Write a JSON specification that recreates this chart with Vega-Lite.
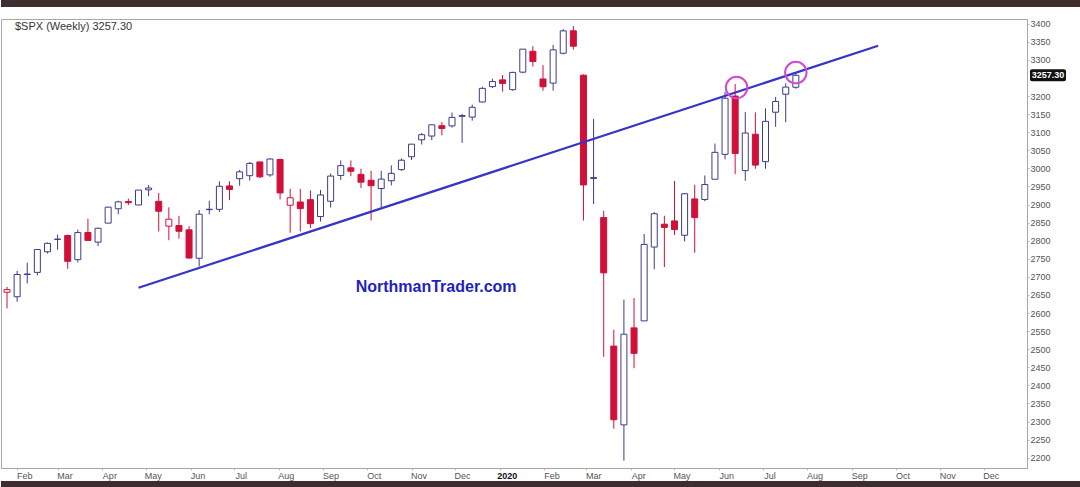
{
  "$schema": "https://vega.github.io/schema/vega-lite/v6.json",
  "background": "white",
  "padding": 0,
  "spacing": 0,
  "config": {
    "font": "Liberation Sans",
    "view": {"stroke": null},
    "axis": {"grid": false, "labelFont": "Liberation Sans", "labelOverlap": false},
    "scale": {"continuousPadding": 0}
  },
  "datasets": {
    "candles": [
      {"d": "2019-01-25", "o": 2657.44, "h": 2672.38, "l": 2612.86, "c": 2664.76, "t": "down"},
      {"d": "2019-02-01", "o": 2644.97, "h": 2716.66, "l": 2631.05, "c": 2706.53, "t": "up"},
      {"d": "2019-02-08", "o": 2706.49, "h": 2738.98, "l": 2681.83, "c": 2707.88, "t": "up"},
      {"d": "2019-02-15", "o": 2712.40, "h": 2775.66, "l": 2704.10, "c": 2775.60, "t": "up"},
      {"d": "2019-02-22", "o": 2769.28, "h": 2795.14, "l": 2764.55, "c": 2792.67, "t": "up"},
      {"d": "2019-03-01", "o": 2804.35, "h": 2816.88, "l": 2775.13, "c": 2803.69, "t": "up"},
      {"d": "2019-03-08", "o": 2814.37, "h": 2816.88, "l": 2722.27, "c": 2743.07, "t": "down"},
      {"d": "2019-03-15", "o": 2747.61, "h": 2830.73, "l": 2739.92, "c": 2822.48, "t": "up"},
      {"d": "2019-03-22", "o": 2822.61, "h": 2860.31, "l": 2800.48, "c": 2800.71, "t": "down"},
      {"d": "2019-03-29", "o": 2796.01, "h": 2836.03, "l": 2785.02, "c": 2834.40, "t": "up"},
      {"d": "2019-04-05", "o": 2848.63, "h": 2893.42, "l": 2848.63, "c": 2892.74, "t": "up"},
      {"d": "2019-04-12", "o": 2888.32, "h": 2910.53, "l": 2873.34, "c": 2907.41, "t": "up"},
      {"d": "2019-04-19", "o": 2908.32, "h": 2916.06, "l": 2898.94, "c": 2905.03, "t": "down"},
      {"d": "2019-04-26", "o": 2898.78, "h": 2939.88, "l": 2898.00, "c": 2939.88, "t": "up"},
      {"d": "2019-05-03", "o": 2940.58, "h": 2954.13, "l": 2923.00, "c": 2945.64, "t": "up"},
      {"d": "2019-05-10", "o": 2908.89, "h": 2932.00, "l": 2825.39, "c": 2881.40, "t": "down"},
      {"d": "2019-05-17", "o": 2840.19, "h": 2892.15, "l": 2801.43, "c": 2859.53, "t": "down"},
      {"d": "2019-05-24", "o": 2841.94, "h": 2868.88, "l": 2805.49, "c": 2826.06, "t": "down"},
      {"d": "2019-05-31", "o": 2830.03, "h": 2840.51, "l": 2750.52, "c": 2752.06, "t": "down"},
      {"d": "2019-06-07", "o": 2751.53, "h": 2884.88, "l": 2728.81, "c": 2873.34, "t": "up"},
      {"d": "2019-06-14", "o": 2885.83, "h": 2910.61, "l": 2873.00, "c": 2886.98, "t": "up"},
      {"d": "2019-06-21", "o": 2886.82, "h": 2964.15, "l": 2879.62, "c": 2950.46, "t": "up"},
      {"d": "2019-06-28", "o": 2951.42, "h": 2964.15, "l": 2912.00, "c": 2941.76, "t": "down"},
      {"d": "2019-07-05", "o": 2971.41, "h": 2995.84, "l": 2952.22, "c": 2990.41, "t": "up"},
      {"d": "2019-07-12", "o": 2979.77, "h": 3017.80, "l": 2966.39, "c": 3013.77, "t": "up"},
      {"d": "2019-07-19", "o": 3017.80, "h": 3017.80, "l": 2973.09, "c": 2976.61, "t": "down"},
      {"d": "2019-07-26", "o": 2981.93, "h": 3027.98, "l": 2976.65, "c": 3025.86, "t": "up"},
      {"d": "2019-08-02", "o": 3024.47, "h": 3027.00, "l": 2914.11, "c": 2932.05, "t": "down"},
      {"d": "2019-08-09", "o": 2898.07, "h": 2943.31, "l": 2822.12, "c": 2918.65, "t": "down"},
      {"d": "2019-08-16", "o": 2907.07, "h": 2943.31, "l": 2825.71, "c": 2888.68, "t": "down"},
      {"d": "2019-08-23", "o": 2913.48, "h": 2939.08, "l": 2834.97, "c": 2847.11, "t": "down"},
      {"d": "2019-08-30", "o": 2866.70, "h": 2940.43, "l": 2853.05, "c": 2926.46, "t": "up"},
      {"d": "2019-09-06", "o": 2909.01, "h": 2985.86, "l": 2891.85, "c": 2978.71, "t": "up"},
      {"d": "2019-09-13", "o": 2980.33, "h": 3021.99, "l": 2968.00, "c": 3007.39, "t": "up"},
      {"d": "2019-09-20", "o": 3001.50, "h": 3021.99, "l": 2978.23, "c": 2992.07, "t": "down"},
      {"d": "2019-09-27", "o": 2983.50, "h": 2999.15, "l": 2945.53, "c": 2961.79, "t": "down"},
      {"d": "2019-10-04", "o": 2967.07, "h": 2993.28, "l": 2855.96, "c": 2952.01, "t": "down"},
      {"d": "2019-10-11", "o": 2944.23, "h": 2993.28, "l": 2892.66, "c": 2970.27, "t": "up"},
      {"d": "2019-10-18", "o": 2965.81, "h": 3008.29, "l": 2952.86, "c": 2986.20, "t": "up"},
      {"d": "2019-10-25", "o": 2996.48, "h": 3027.39, "l": 2993.00, "c": 3022.55, "t": "up"},
      {"d": "2019-11-01", "o": 3032.12, "h": 3066.95, "l": 3023.19, "c": 3066.91, "t": "up"},
      {"d": "2019-11-08", "o": 3078.96, "h": 3097.77, "l": 3066.00, "c": 3093.08, "t": "up"},
      {"d": "2019-11-15", "o": 3089.28, "h": 3120.46, "l": 3078.00, "c": 3120.46, "t": "up"},
      {"d": "2019-11-22", "o": 3117.91, "h": 3127.64, "l": 3091.41, "c": 3110.29, "t": "down"},
      {"d": "2019-11-29", "o": 3117.44, "h": 3154.26, "l": 3113.00, "c": 3140.98, "t": "up"},
      {"d": "2019-12-06", "o": 3143.85, "h": 3150.60, "l": 3070.33, "c": 3145.91, "t": "up"},
      {"d": "2019-12-13", "o": 3141.86, "h": 3176.28, "l": 3132.00, "c": 3168.80, "t": "up"},
      {"d": "2019-12-20", "o": 3183.63, "h": 3225.65, "l": 3182.00, "c": 3221.22, "t": "up"},
      {"d": "2019-12-27", "o": 3226.05, "h": 3247.93, "l": 3222.00, "c": 3240.02, "t": "up"},
      {"d": "2020-01-03", "o": 3244.67, "h": 3258.14, "l": 3212.03, "c": 3234.85, "t": "down"},
      {"d": "2020-01-10", "o": 3217.55, "h": 3267.07, "l": 3214.64, "c": 3265.35, "t": "up"},
      {"d": "2020-01-17", "o": 3266.03, "h": 3329.88, "l": 3263.00, "c": 3329.62, "t": "up"},
      {"d": "2020-01-24", "o": 3323.66, "h": 3337.77, "l": 3281.53, "c": 3295.47, "t": "down"},
      {"d": "2020-01-31", "o": 3247.16, "h": 3285.91, "l": 3214.64, "c": 3225.52, "t": "down"},
      {"d": "2020-02-07", "o": 3235.66, "h": 3341.42, "l": 3214.68, "c": 3327.71, "t": "up"},
      {"d": "2020-02-14", "o": 3318.28, "h": 3385.09, "l": 3315.00, "c": 3380.16, "t": "up"},
      {"d": "2020-02-21", "o": 3380.39, "h": 3393.52, "l": 3328.45, "c": 3337.75, "t": "down"},
      {"d": "2020-02-28", "o": 3257.61, "h": 3259.81, "l": 2855.84, "c": 2954.22, "t": "down"},
      {"d": "2020-03-06", "o": 2974.28, "h": 3136.72, "l": 2901.00, "c": 2972.37, "t": "up"},
      {"d": "2020-03-13", "o": 2863.89, "h": 2882.59, "l": 2478.86, "c": 2711.02, "t": "down"},
      {"d": "2020-03-20", "o": 2508.59, "h": 2553.93, "l": 2280.52, "c": 2304.92, "t": "down"},
      {"d": "2020-03-27", "o": 2290.71, "h": 2637.01, "l": 2191.86, "c": 2541.47, "t": "up"},
      {"d": "2020-04-03", "o": 2558.98, "h": 2641.39, "l": 2447.49, "c": 2488.65, "t": "down"},
      {"d": "2020-04-10", "o": 2578.28, "h": 2818.57, "l": 2578.28, "c": 2789.82, "t": "up"},
      {"d": "2020-04-17", "o": 2782.46, "h": 2879.22, "l": 2721.17, "c": 2874.56, "t": "up"},
      {"d": "2020-04-24", "o": 2845.62, "h": 2868.98, "l": 2727.10, "c": 2836.74, "t": "down"},
      {"d": "2020-05-01", "o": 2854.65, "h": 2964.95, "l": 2816.00, "c": 2830.71, "t": "down"},
      {"d": "2020-05-08", "o": 2815.01, "h": 2932.16, "l": 2797.85, "c": 2929.80, "t": "up"},
      {"d": "2020-05-15", "o": 2915.46, "h": 2954.86, "l": 2766.64, "c": 2863.70, "t": "down"},
      {"d": "2020-05-22", "o": 2913.86, "h": 2980.29, "l": 2909.00, "c": 2955.45, "t": "up"},
      {"d": "2020-05-29", "o": 2969.95, "h": 3068.67, "l": 2969.95, "c": 3044.31, "t": "up"},
      {"d": "2020-06-05", "o": 3038.78, "h": 3211.72, "l": 3025.00, "c": 3193.93, "t": "up"},
      {"d": "2020-06-12", "o": 3199.92, "h": 3233.13, "l": 2984.00, "c": 3041.31, "t": "down"},
      {"d": "2020-06-19", "o": 2993.76, "h": 3155.53, "l": 2965.66, "c": 3097.74, "t": "up"},
      {"d": "2020-06-26", "o": 3094.42, "h": 3154.90, "l": 2999.00, "c": 3009.05, "t": "down"},
      {"d": "2020-07-03", "o": 3018.59, "h": 3165.81, "l": 2999.00, "c": 3130.01, "t": "up"},
      {"d": "2020-07-10", "o": 3155.29, "h": 3197.52, "l": 3115.00, "c": 3185.04, "t": "up"},
      {"d": "2020-07-17", "o": 3205.08, "h": 3235.32, "l": 3127.66, "c": 3224.73, "t": "up"},
      {"d": "2020-07-24", "o": 3224.29, "h": 3264.74, "l": 3220.00, "c": 3257.30, "t": "up"}
    ],
    "trend": [
      {"d": "2019-04-26", "v": 2669.8},
      {"d": "2020-09-19", "v": 3339.0}
    ],
    "circles": [
      {"d": "2020-06-13", "v": 3223.4},
      {"d": "2020-07-24", "v": 3264.8}
    ],
    "site": [
      {"d": "2019-11-18", "v": 2671.7, "label": "NorthmanTrader.com"}
    ],
    "heading": [
      {"d": "2019-01-30T12:00:00Z", "v": 3391.7, "label": "$SPX (Weekly) 3257.30"}
    ],
    "last": [
      {"d": "2020-12-31", "v": 3257.3, "label": "3257.30"}
    ]
  },
  "vconcat": [
    {
      "width": 1080,
      "height": 7,
      "view": {"fill": "#3e2c2e", "stroke": null},
      "data": {"values": [{"k": 1}]},
      "mark": {"type": "point", "opacity": 0},
      "encoding": {}
    },
    {
      "width": 1080,
      "height": 11,
      "data": {"values": [{"k": 1}]},
      "mark": {"type": "point", "opacity": 0},
      "encoding": {}
    },
    {
      "width": 1026,
      "height": 449,
      "view": {"stroke": "#a8a8a8", "strokeWidth": 1},
      "layer": [
        {
          "data": {"name": "candles"},
          "mark": {"type": "rule", "strokeWidth": 1},
          "encoding": {
            "x": {
              "field": "d",
              "type": "temporal",
              "scale": {
                "type": "utc",
                "nice": false,
                "padding": 0,
                "domain": [
                  {"year": 2019, "month": 1, "date": 20, "hours": 20, "utc": true},
                  {"year": 2020, "month": 12, "date": 31, "utc": true}
                ]
              },
              "axis": {
                "orient": "bottom",
                "tickCount": {"interval": "month", "step": 1},
                "labelExpr": "utcFormat(datum.value, '%m') == '01' ? utcFormat(datum.value, '%Y') : utcFormat(datum.value, '%b')",
                "labelFontWeight": {"condition": {"test": "utcFormat(datum.value, '%m') == '01'", "value": "bold"}, "value": "normal"},
                "labelColor": {"condition": {"test": "utcFormat(datum.value, '%m') == '01'", "value": "#111111"}, "value": "#555555"},
                "labelFontSize": 9,
                "labelOffset": 7,
                "labelPadding": 1,
                "tickSize": 2,
                "tickColor": "#bbbbbb",
                "domainColor": "#a8a8a8",
                "labelFlush": false,
                "labelOverlap": false,
                "title": null
              }
            },
            "y": {
              "field": "l",
              "type": "quantitative",
              "scale": {"domain": [2171.5, 3413], "nice": false, "zero": false, "padding": 0},
              "axis": {"orient": "right", "values": [2200, 2250, 2300, 2350, 2400, 2450, 2500, 2550, 2600, 2650, 2700, 2750, 2800, 2850, 2900, 2950, 3000, 3050, 3100, 3150, 3200, 3300, 3350, 3400], "tickCount": 25, "format": "d", "labelOverlap": false, "labelFontSize": 9, "labelColor": "#555555", "labelPadding": 1, "tickSize": 2, "tickColor": "#bbbbbb", "domainColor": "#a8a8a8", "title": null}
            },
            "y2": {"field": "h"},
            "color": {
              "field": "t",
              "type": "nominal",
              "scale": {"domain": ["up", "down"], "range": ["#3c3c8c", "#d0103a"]},
              "legend": null
            }
          }
        },
        {
          "data": {"name": "candles"},
          "mark": {"type": "bar", "width": 6, "strokeWidth": 1},
          "encoding": {
            "x": {"field": "d", "type": "temporal"},
            "y": {"field": "o", "type": "quantitative", "axis": {"orient": "right", "values": [2200, 2250, 2300, 2350, 2400, 2450, 2500, 2550, 2600, 2650, 2700, 2750, 2800, 2850, 2900, 2950, 3000, 3050, 3100, 3150, 3200, 3300, 3350, 3400], "tickCount": 25, "format": "d", "labelOverlap": false, "labelFontSize": 9, "labelColor": "#555555", "labelPadding": 1, "tickSize": 2, "tickColor": "#bbbbbb", "domainColor": "#a8a8a8", "title": null}},
            "y2": {"field": "c"},
            "stroke": {
              "field": "t",
              "type": "nominal",
              "scale": {"domain": ["up", "down"], "range": ["#3c3c8c", "#d0103a"]},
              "legend": null
            },
            "fill": {
              "condition": {"test": "datum.c >= datum.o", "value": "#ffffff"},
              "field": "t",
              "type": "nominal",
              "scale": {"domain": ["up", "down"], "range": ["#3c3c8c", "#d0103a"]},
              "legend": null
            }
          }
        },
        {
          "data": {"name": "trend"},
          "mark": {"type": "line", "color": "#3535c8", "strokeWidth": 2.2},
          "encoding": {
            "x": {"field": "d", "type": "temporal"},
            "y": {"field": "v", "type": "quantitative", "axis": {"orient": "right", "values": [2200, 2250, 2300, 2350, 2400, 2450, 2500, 2550, 2600, 2650, 2700, 2750, 2800, 2850, 2900, 2950, 3000, 3050, 3100, 3150, 3200, 3300, 3350, 3400], "tickCount": 25, "format": "d", "labelOverlap": false, "labelFontSize": 9, "labelColor": "#555555", "labelPadding": 1, "tickSize": 2, "tickColor": "#bbbbbb", "domainColor": "#a8a8a8", "title": null}}
          }
        },
        {
          "data": {"name": "circles"},
          "mark": {"type": "point", "shape": "circle", "size": 460, "filled": false, "stroke": "#d04ad0", "strokeWidth": 2, "opacity": 1},
          "encoding": {
            "x": {"field": "d", "type": "temporal"},
            "y": {"field": "v", "type": "quantitative", "axis": {"orient": "right", "values": [2200, 2250, 2300, 2350, 2400, 2450, 2500, 2550, 2600, 2650, 2700, 2750, 2800, 2850, 2900, 2950, 3000, 3050, 3100, 3150, 3200, 3300, 3350, 3400], "tickCount": 25, "format": "d", "labelOverlap": false, "labelFontSize": 9, "labelColor": "#555555", "labelPadding": 1, "tickSize": 2, "tickColor": "#bbbbbb", "domainColor": "#a8a8a8", "title": null}}
          }
        },
        {
          "data": {"name": "site"},
          "mark": {"type": "text", "font": "Liberation Sans", "fontSize": 16, "fontWeight": "bold", "color": "#1f1fc4", "align": "center", "baseline": "middle"},
          "encoding": {
            "x": {"field": "d", "type": "temporal"},
            "y": {"field": "v", "type": "quantitative", "axis": {"orient": "right", "values": [2200, 2250, 2300, 2350, 2400, 2450, 2500, 2550, 2600, 2650, 2700, 2750, 2800, 2850, 2900, 2950, 3000, 3050, 3100, 3150, 3200, 3300, 3350, 3400], "tickCount": 25, "format": "d", "labelOverlap": false, "labelFontSize": 9, "labelColor": "#555555", "labelPadding": 1, "tickSize": 2, "tickColor": "#bbbbbb", "domainColor": "#a8a8a8", "title": null}},
            "text": {"field": "label"}
          }
        },
        {
          "data": {"name": "heading"},
          "mark": {"type": "text", "font": "Liberation Sans", "fontSize": 11, "color": "#333333", "align": "left", "baseline": "middle"},
          "encoding": {
            "x": {"field": "d", "type": "temporal"},
            "y": {"field": "v", "type": "quantitative", "axis": {"orient": "right", "values": [2200, 2250, 2300, 2350, 2400, 2450, 2500, 2550, 2600, 2650, 2700, 2750, 2800, 2850, 2900, 2950, 3000, 3050, 3100, 3150, 3200, 3300, 3350, 3400], "tickCount": 25, "format": "d", "labelOverlap": false, "labelFontSize": 9, "labelColor": "#555555", "labelPadding": 1, "tickSize": 2, "tickColor": "#bbbbbb", "domainColor": "#a8a8a8", "title": null}},
            "text": {"field": "label"}
          }
        },
        {
          "data": {"name": "last"},
          "mark": {"type": "rect", "color": "#111111", "cornerRadius": 2, "xOffset": 3, "x2Offset": 39, "yOffset": -6, "y2Offset": 6},
          "encoding": {
            "x": {"field": "d", "type": "temporal"},
            "x2": {"field": "d"},
            "y": {"field": "v", "type": "quantitative", "axis": {"orient": "right", "values": [2200, 2250, 2300, 2350, 2400, 2450, 2500, 2550, 2600, 2650, 2700, 2750, 2800, 2850, 2900, 2950, 3000, 3050, 3100, 3150, 3200, 3300, 3350, 3400], "tickCount": 25, "format": "d", "labelOverlap": false, "labelFontSize": 9, "labelColor": "#555555", "labelPadding": 1, "tickSize": 2, "tickColor": "#bbbbbb", "domainColor": "#a8a8a8", "title": null}},
            "y2": {"field": "v"}
          }
        },
        {
          "data": {"name": "last"},
          "mark": {"type": "text", "color": "#ffffff", "fontSize": 9, "fontWeight": "bold", "align": "center", "baseline": "middle", "dx": 21},
          "encoding": {
            "x": {"field": "d", "type": "temporal"},
            "y": {"field": "v", "type": "quantitative", "axis": {"orient": "right", "values": [2200, 2250, 2300, 2350, 2400, 2450, 2500, 2550, 2600, 2650, 2700, 2750, 2800, 2850, 2900, 2950, 3000, 3050, 3100, 3150, 3200, 3300, 3350, 3400], "tickCount": 25, "format": "d", "labelOverlap": false, "labelFontSize": 9, "labelColor": "#555555", "labelPadding": 1, "tickSize": 2, "tickColor": "#bbbbbb", "domainColor": "#a8a8a8", "title": null}},
            "text": {"field": "label"}
          }
        }
      ]
    },
    {
      "width": 1080,
      "height": 7,
      "view": {"fill": "#3e2c2e", "stroke": null},
      "data": {"values": [{"k": 1}]},
      "mark": {"type": "point", "opacity": 0},
      "encoding": {}
    }
  ]
}
